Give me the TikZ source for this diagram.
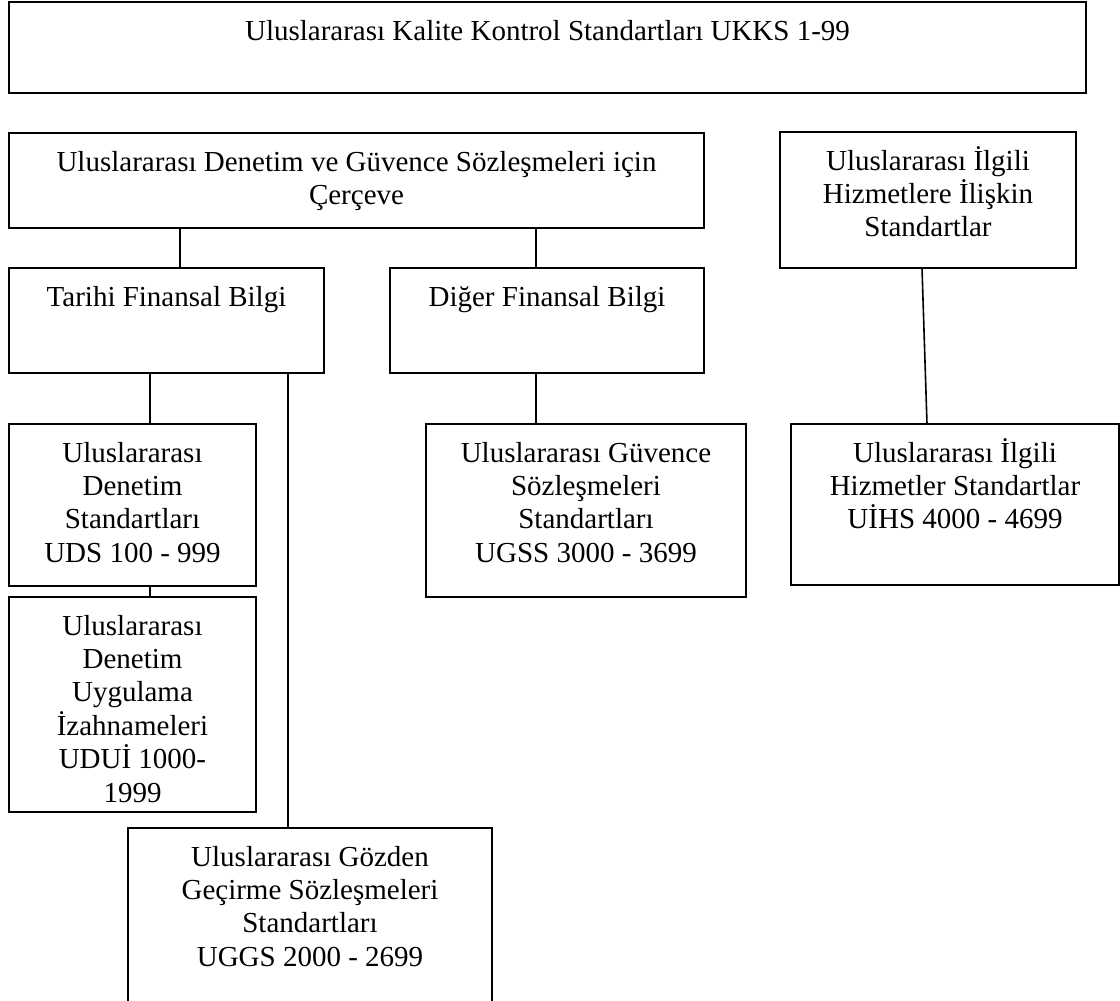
\documentclass[tikz,border=0pt]{standalone}
\usepackage{fontspec}
\setmainfont{Liberation Serif}
% strut that fixes the distance from a box's top edge to its first baseline
\newcommand\boxlead{\rule{0pt}{38pt}}
\tikzset{
  boxframe/.style={draw=black, line width=1.8pt, anchor=north west,
                   inner sep=0pt, outer sep=0pt},
  txt/.style={anchor=north, inner sep=0pt, outer sep=0pt, align=center,
              font=\fontsize{29}{33.4}\selectfont},
  link/.style={draw=black, line width=1.6pt}
}
\begin{document}
\begin{tikzpicture}[x=1pt,y=-1pt]
\useasboundingbox (0,0) rectangle (1120,1001);
\clip (0,0) rectangle (1120,1001);

% boxes
\node[boxframe, minimum width=1077pt, minimum height=91pt]  (ukks)   at (9,2)    {};
\node[boxframe, minimum width=695pt,  minimum height=95pt]  (cerceve) at (9,133) {};
\node[boxframe, minimum width=296pt,  minimum height=136pt] (ilgili) at (780,132) {};
\node[boxframe, minimum width=315pt,  minimum height=105pt] (tarihi) at (9,268)  {};
\node[boxframe, minimum width=314pt,  minimum height=105pt] (diger)  at (390,268) {};
\node[boxframe, minimum width=247pt,  minimum height=162pt] (uds)    at (9,424)  {};
\node[boxframe, minimum width=247pt,  minimum height=215pt] (udui)   at (9,597)  {};
\node[boxframe, minimum width=320pt,  minimum height=173pt] (ugss)   at (426,424) {};
\node[boxframe, minimum width=328pt,  minimum height=161pt] (uihs)   at (791,424) {};
\node[boxframe, minimum width=364pt,  minimum height=200pt] (uggs)   at (128,828) {};

% texts
\node[txt] (ukksT)    at (ukks.north)    {\boxlead Uluslararası Kalite Kontrol Standartları UKKS 1-99};
\node[txt] (cerceveT) at (cerceve.north) {\boxlead Uluslararası Denetim ve Güvence Sözleşmeleri için\\Çerçeve};
\node[txt] (ilgiliT)  at (ilgili.north)  {\boxlead Uluslararası İlgili\\Hizmetlere İlişkin\\Standartlar};
\node[txt] (tarihiT)  at (tarihi.north)  {\boxlead Tarihi Finansal Bilgi};
\node[txt] (digerT)   at (diger.north)   {\boxlead Diğer Finansal Bilgi};
\node[txt] (udsT)     at (uds.north)     {\boxlead Uluslararası\\Denetim\\Standartları\\UDS 100 - 999};
\node[txt] (uduiT)    at (udui.north)    {\boxlead Uluslararası\\Denetim\\Uygulama\\İzahnameleri\\UDUİ 1000-\\1999};
\node[txt] (ugssT)    at (ugss.north)    {\boxlead Uluslararası Güvence\\Sözleşmeleri\\Standartları\\UGSS 3000 - 3699};
\node[txt] (uihsT)    at (uihs.north)    {\boxlead Uluslararası İlgili\\Hizmetler Standartlar\\UİHS 4000 - 4699};
\node[txt] (uggsT)    at (uggs.north)    {\boxlead Uluslararası Gözden\\Geçirme Sözleşmeleri\\Standartları\\UGGS 2000 - 2699};

% connectors
\draw[link] ([xshift=171pt]cerceve.south west) -- ([xshift=171pt]tarihi.north west);
\draw[link] ([xshift=527pt]cerceve.south west) -- ([xshift=146pt]diger.north west);
\draw[link] ([xshift=141pt]tarihi.south west)  -- ([xshift=141pt]uds.north west);
\draw[link] ([xshift=141pt]uds.south west)     -- ([xshift=141pt]udui.north west);
\draw[link] ([xshift=279pt]tarihi.south west)  -- ([xshift=160pt]uggs.north west);
\draw[link] ([xshift=146pt]diger.south west)   -- ([xshift=110pt]ugss.north west);
\draw[link] ([xshift=142pt]ilgili.south west)  -- ([xshift=136pt]uihs.north west);
\end{tikzpicture}
\end{document}
